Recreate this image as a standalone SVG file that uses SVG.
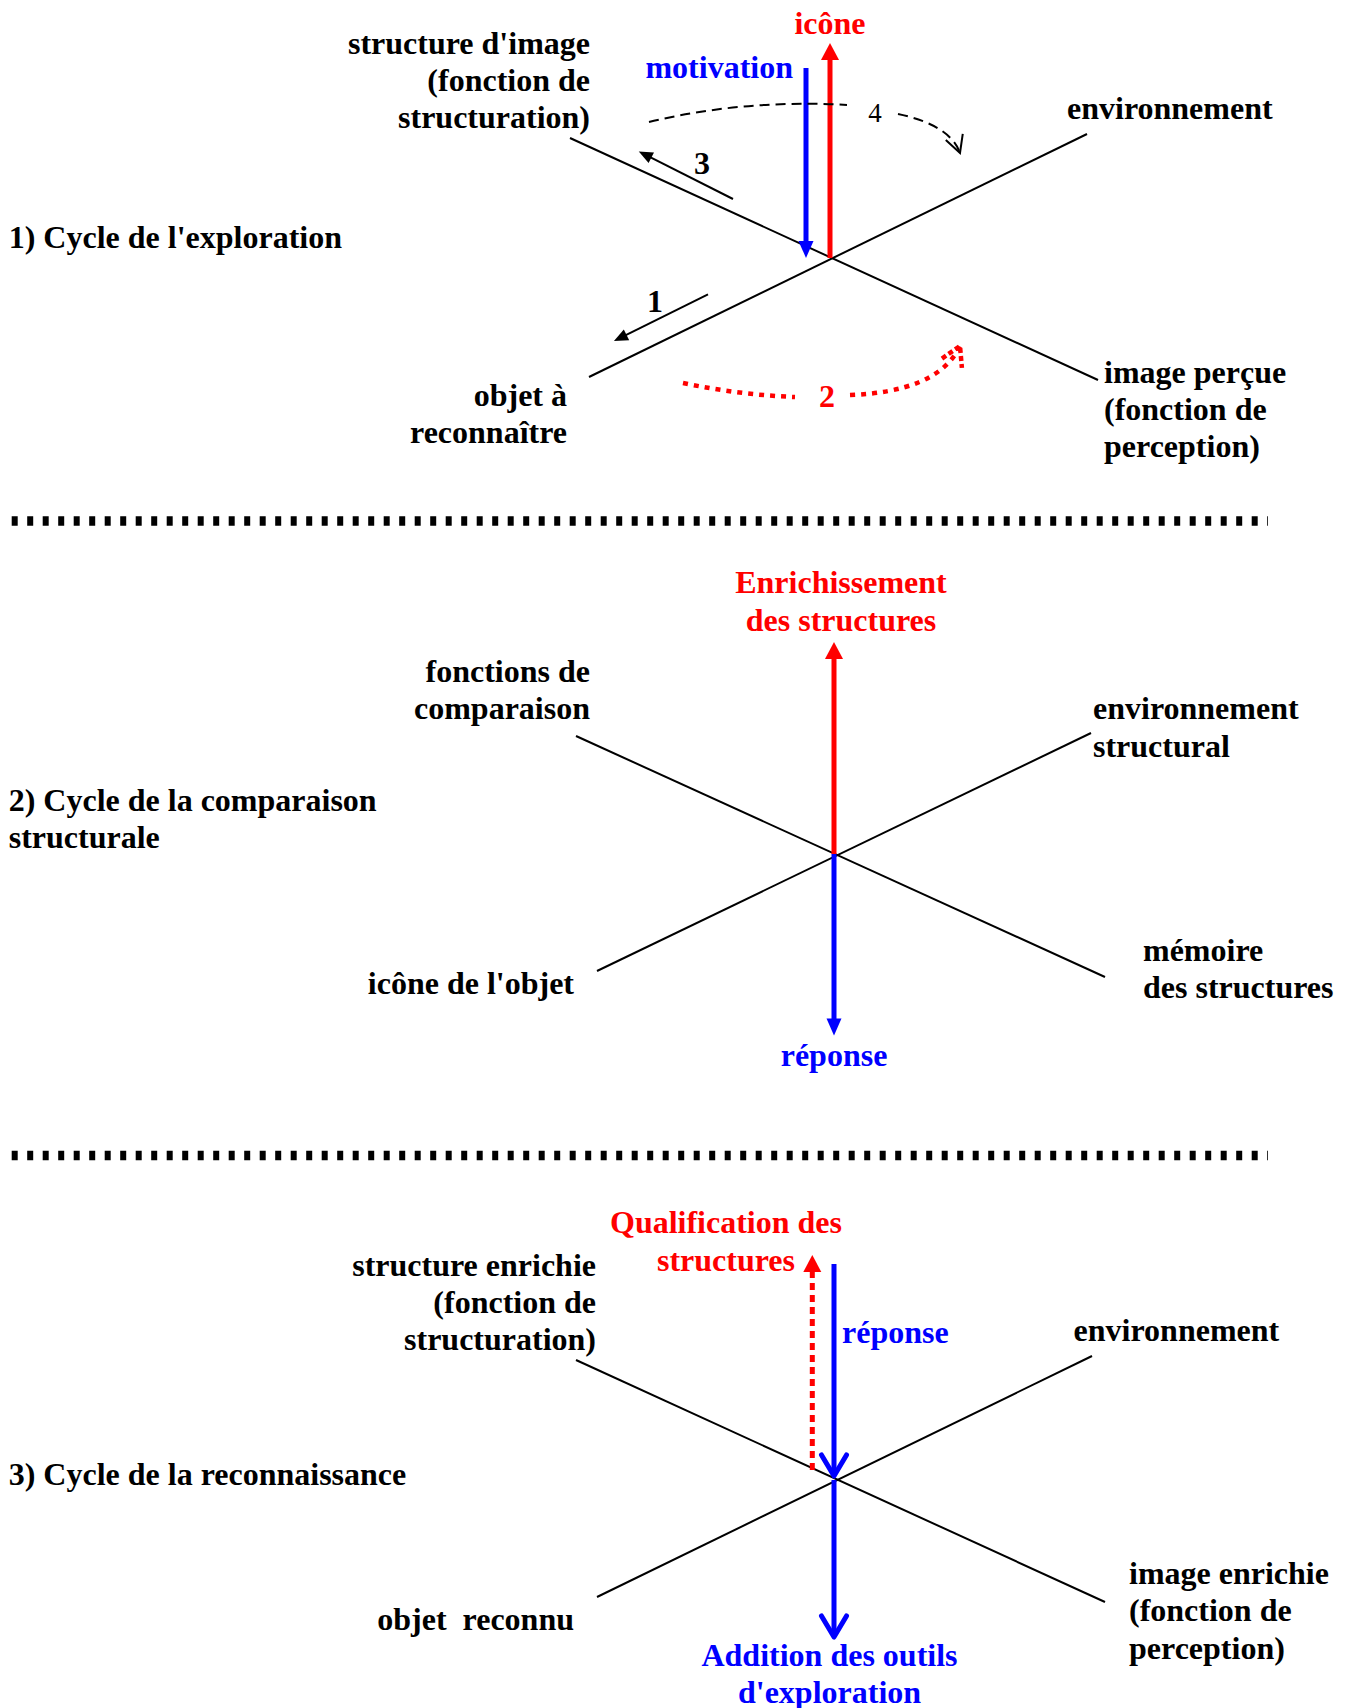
<svg xmlns="http://www.w3.org/2000/svg" width="1348" height="1708" viewBox="0 0 1348 1708">
<style>
.t{font-family:"Liberation Serif","Times New Roman",serif;font-weight:bold;font-size:32px;fill:#000}
.r{fill:#ff0000}
.b{fill:#0000ff}
.e{text-anchor:end}
.m{text-anchor:middle}
.ax{stroke:#000;stroke-width:2;fill:none}
.div{stroke:#000;stroke-width:9.3;stroke-dasharray:6 9.5;fill:none}
</style>
<defs>
<marker id="hRed" markerUnits="userSpaceOnUse" markerWidth="20" markerHeight="20" refX="4" refY="9" orient="auto" overflow="visible"><path d="M0,0 L17,9 L0,18 z" fill="#ff0000"/></marker>
<marker id="hBlue" markerUnits="userSpaceOnUse" markerWidth="20" markerHeight="20" refX="4" refY="7.5" orient="auto" overflow="visible"><path d="M0,0 L17,7.5 L0,15 z" fill="#0000ff"/></marker>
<marker id="hBlk" markerUnits="userSpaceOnUse" markerWidth="16" markerHeight="16" refX="3" refY="6" orient="auto" overflow="visible"><path d="M0,0 L14,6 L0,12 z" fill="#000"/></marker>
<marker id="vBlue" markerUnits="userSpaceOnUse" markerWidth="30" markerHeight="30" refX="21" refY="12.5" orient="auto" overflow="visible"><path d="M0,0 L21,12.5 L0,25" fill="none" stroke="#0000ff" stroke-width="5" stroke-linejoin="round" stroke-linecap="round"/></marker>
<marker id="vBlk" markerUnits="userSpaceOnUse" markerWidth="24" markerHeight="24" refX="17" refY="9" orient="auto" overflow="visible"><path d="M0,0 L17,9 L0,18" fill="none" stroke="#000" stroke-width="2"/></marker>
<marker id="vRed" markerUnits="userSpaceOnUse" markerWidth="30" markerHeight="30" refX="19" refY="11" orient="auto" overflow="visible"><path d="M0,0 L19,11 L0,22" fill="none" stroke="#ff0000" stroke-width="4.5" stroke-dasharray="5 3"/></marker>
</defs>
<rect width="1348" height="1708" fill="#fff"/>

<g id="connectors">
<line class="ax" x1="570" y1="138" x2="1098" y2="380"/>
<line class="ax" x1="589" y1="377" x2="1087" y2="134"/>
<line x1="806" y1="68" x2="806" y2="245" stroke="#0000ff" stroke-width="5" marker-end="url(#hBlue)"/>
<line x1="830" y1="258" x2="830" y2="56" stroke="#ff0000" stroke-width="5" marker-end="url(#hRed)"/>
<line x1="733" y1="199" x2="648.6" y2="156.4" stroke="#000" stroke-width="2" marker-end="url(#hBlk)"/>
<line x1="708" y1="294.3" x2="623.8" y2="336.2" stroke="#000" stroke-width="2" marker-end="url(#hBlk)"/>
<path d="M649,122 Q745,99 847,105" fill="none" stroke="#000" stroke-width="2" stroke-dasharray="10 6"/>
<path d="M898,114 Q950,125 960,153" fill="none" stroke="#000" stroke-width="2" stroke-dasharray="10 6" marker-end="url(#vBlk)"/>
<path d="M683,383 Q740,395 795,397" fill="none" stroke="#ff0000" stroke-width="4.5" stroke-dasharray="5 6"/>
<path d="M850,395 C905,393 945,378 960,346" fill="none" stroke="#ff0000" stroke-width="4.5" stroke-dasharray="5 6" marker-end="url(#vRed)"/>

<line class="div" x1="11.7" y1="521" x2="1268" y2="521"/>

<line class="ax" x1="576" y1="736" x2="1105" y2="977"/>
<line class="ax" x1="597" y1="971" x2="1091" y2="733"/>
<line x1="834" y1="854" x2="834" y2="655" stroke="#ff0000" stroke-width="5" marker-end="url(#hRed)"/>
<line x1="834" y1="854" x2="834" y2="1022.5" stroke="#0000ff" stroke-width="5" marker-end="url(#hBlue)"/>

<line class="div" x1="11.7" y1="1155.5" x2="1268" y2="1155.5"/>

<line class="ax" x1="576" y1="1360" x2="1105" y2="1602"/>
<line class="ax" x1="597" y1="1597" x2="1092" y2="1356"/>
<line x1="812.3" y1="1470" x2="812.3" y2="1268" stroke="#ff0000" stroke-width="5" stroke-dasharray="7 5" marker-end="url(#hRed)"/>
<line x1="834" y1="1264" x2="834" y2="1476" stroke="#0000ff" stroke-width="5" marker-end="url(#vBlue)"/>
<line x1="834" y1="1480" x2="834" y2="1637" stroke="#0000ff" stroke-width="5" marker-end="url(#vBlue)"/>
</g>

<g id="s1-structure"><text class="t e" x="590" y="54.3">structure d'image</text><text class="t e" x="590" y="91">(fonction de</text><text class="t e" x="590" y="127.7">structuration)</text></g>
<g id="s1-icone"><text class="t r m" x="830" y="33.5">icône</text></g>
<g id="s1-motivation"><text class="t b e" x="793" y="77.5">motivation</text></g>
<g id="s1-environnement"><text class="t" x="1067" y="119">environnement</text></g>
<g id="s1-title"><text class="t" x="8.7" y="248">1) Cycle de l'exploration</text></g>
<g id="s1-objet"><text class="t e" x="567" y="406">objet à</text><text class="t e" x="567" y="443">reconnaître</text></g>
<g id="s1-image"><text class="t" x="1104" y="382.5">image perçue</text><text class="t" x="1104" y="420">(fonction de</text><text class="t" x="1104" y="457">perception)</text></g>
<g id="s1-n3"><text class="t m" x="702" y="174">3</text></g>
<g id="s1-n1"><text class="t m" x="655" y="311.5">1</text></g>
<g id="s1-n4"><text class="m" x="875" y="122" style="font-family:'Liberation Serif','Times New Roman',serif;font-size:27px;fill:#000">4</text></g>
<g id="s1-n2"><text class="t r m" x="827" y="407">2</text></g>

<g id="s2-enrichissement"><text class="t r m" x="841" y="593">Enrichissement</text><text class="t r m" x="841" y="631">des structures</text></g>
<g id="s2-fonctions"><text class="t e" x="590" y="681.5">fonctions de</text><text class="t e" x="590" y="718.5">comparaison</text></g>
<g id="s2-environnement"><text class="t" x="1093" y="718.5">environnement</text><text class="t" x="1093" y="756.5">structural</text></g>
<g id="s2-title"><text class="t" x="8.7" y="811">2) Cycle de la comparaison</text><text class="t" x="8.7" y="848">structurale</text></g>
<g id="s2-icone"><text class="t e" x="574" y="994">icône de l'objet</text></g>
<g id="s2-memoire"><text class="t" x="1143" y="961">mémoire</text><text class="t" x="1143" y="998">des structures</text></g>
<g id="s2-reponse"><text class="t b m" x="834" y="1066">réponse</text></g>

<g id="s3-qualification"><text class="t r m" x="726" y="1232.5">Qualification des</text><text class="t r m" x="726" y="1270.5">structures</text></g>
<g id="s3-structure"><text class="t e" x="596" y="1276">structure enrichie</text><text class="t e" x="596" y="1313">(fonction de</text><text class="t e" x="596" y="1350">structuration)</text></g>
<g id="s3-reponse"><text class="t b" x="842" y="1343">réponse</text></g>
<g id="s3-environnement"><text class="t" x="1073.6" y="1341">environnement</text></g>
<g id="s3-title"><text class="t" x="8.7" y="1485">3) Cycle de la reconnaissance</text></g>
<g id="s3-objet"><text class="t e" x="574" y="1630" xml:space="preserve">objet  reconnu</text></g>
<g id="s3-image"><text class="t" x="1129" y="1584">image enrichie</text><text class="t" x="1129" y="1621">(fonction de</text><text class="t" x="1129" y="1659">perception)</text></g>
<g id="s3-addition"><text class="t b m" x="829.5" y="1666">Addition des outils</text><text class="t b m" x="829.5" y="1703">d'exploration</text></g>
</svg>
